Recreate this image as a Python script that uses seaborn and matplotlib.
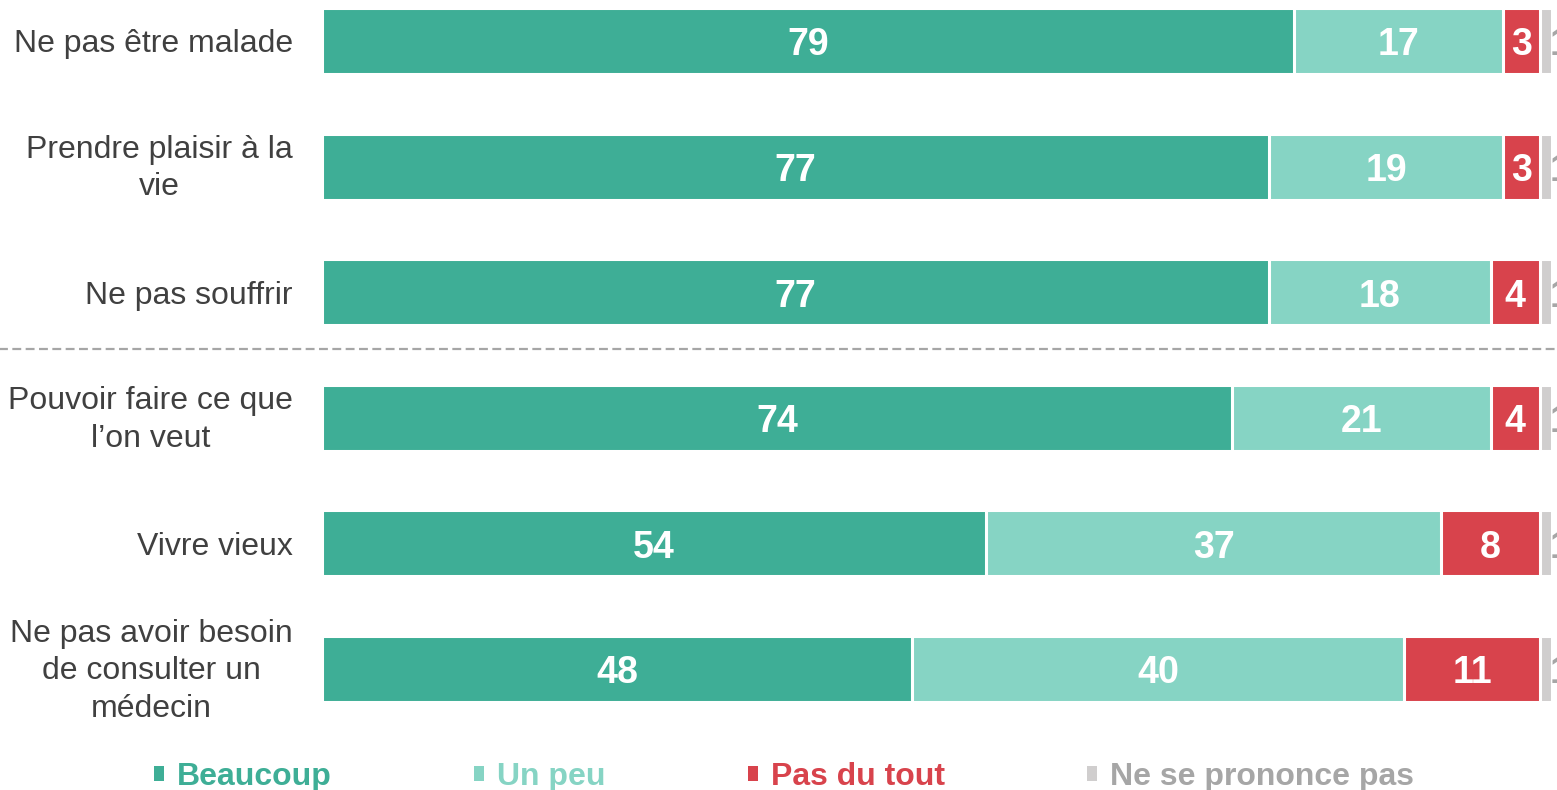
import matplotlib.pyplot as plt
import seaborn as sns
import pandas as pd
from matplotlib.patches import Patch
from matplotlib.transforms import ScaledTranslation


# ============================================================
# DATA
# ============================================================

categories = [
    "Ne pas être malade",
    "Prendre plaisir à la\nvie",
    "Ne pas souffrir",
    "Pouvoir faire ce que\nl’on veut",
    "Vivre vieux",
    "Ne pas avoir besoin\nde consulter un\nmédecin",
]

series_names = ["Beaucoup", "Un peu", "Pas du tout", "Ne se prononce pas"]

beaucoup = [79, 77, 77, 74, 54, 48]
un_peu = [17, 19, 18, 21, 37, 40]
pas_du_tout = [3, 3, 4, 4, 8, 11]
nsp = [1, 1, 1, 1, 1, 1]

colors = ["#3EAE96", "#86D4C4", "#D8434C", "#D0CECE"]
legend_text_colors = ["#3EAE96", "#86D4C4", "#D8434C", "#A6A6A6"]


# ============================================================
# CHART
# ============================================================

sns.set_theme(style="white")
plt.rcParams["font.family"] = ["Liberation Sans", "DejaVu Sans"]

fig = plt.figure(figsize=(15.57, 7.9), dpi=100)
ax = fig.add_axes([322 / 1557, 80 / 790, 1235 / 1557, 710 / 790])

series = [beaucoup, un_peu, pas_du_tout, nsp]

# cumulative totals, drawn from longest to shortest
cumulative = []
running = [0] * len(categories)
for values in series:
    running = [r + v for r, v in zip(running, values)]
    cumulative.append(list(running))

for i in reversed(range(len(series))):
    df = pd.DataFrame({"category": categories, "value": cumulative[i]})
    sns.barplot(
        data=df,
        x="value",
        y="category",
        orient="h",
        color=colors[i],
        width=0.525,
        edgecolor="white",
        linewidth=2.2,
        saturation=1,
        ax=ax,
    )

# value labels
for i, values in enumerate(series):
    for row, v in enumerate(values):
        end = cumulative[i][row]
        if i < 3:
            ax.text(
                end - v / 2, row + 0.035, str(v),
                ha="center", va="center",
                color="white", fontsize=27, fontweight="bold"
            )
        else:
            # the "1" labels run off the right edge, as in the source
            ax.text(
                end - 0.2, row + 0.035, str(v),
                ha="left", va="center",
                color="#A6A6A6", fontsize=27, fontweight="bold",
                clip_on=False
            )

ax.set_xlim(0, 100.4)
ax.set_ylim(5.326, -0.326)

ax.set_xlabel("")
ax.set_ylabel("")
ax.set_xticks([])
ax.tick_params(axis="y", length=0, pad=21, labelsize=23, labelcolor="#404040")

# multi-line labels sit a little higher
shift_up = ScaledTranslation(0, 5 / 100, fig.dpi_scale_trans)
for t in ax.get_yticklabels():
    t.set_multialignment("center")
    t.set_linespacing(1.32)
    if "\n" in t.get_text():
        t.set_transform(t.get_transform() + shift_up)

for s in ax.spines.values():
    s.set_visible(False)

# separator
ax.axhline(
    2.45, xmin=-0.27, xmax=1.0,
    color="#A6A6A6", linewidth=1.6,
    linestyle=(0, (4, 2)), clip_on=False
)

# legend
handles = [Patch(facecolor=c, edgecolor="none") for c in colors]
leg = fig.legend(
    handles, series_names,
    loc="center", bbox_to_anchor=(0.5035, 1 - 777 / 790),
    ncol=4, frameon=False,
    prop={"size": 23, "weight": "bold"},
    handlelength=0.33, handleheight=0.33,
    handletextpad=0.4, columnspacing=4.44,
)
for text, c in zip(leg.get_texts(), legend_text_colors):
    text.set_color(c)

plt.savefig("out.png", dpi=100)
plt.close()
